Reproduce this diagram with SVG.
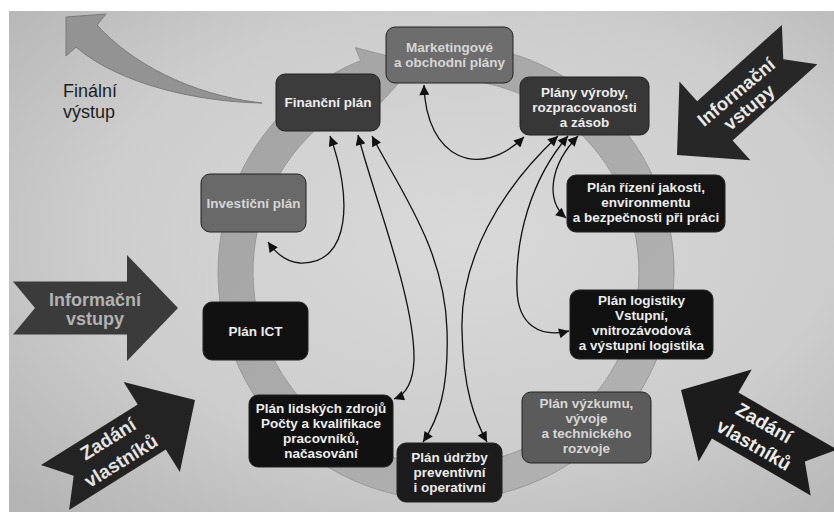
<svg xmlns="http://www.w3.org/2000/svg" width="834" height="512" viewBox="0 0 834 512">
<defs>
<radialGradient id="bg" cx="0.55" cy="0.45" r="0.75">
<stop offset="0" stop-color="#d9d9d9"/>
<stop offset="0.6" stop-color="#cdcdcd"/>
<stop offset="1" stop-color="#b4b4b4"/>
</radialGradient>
<linearGradient id="ringg" x1="0" y1="0" x2="1" y2="1">
<stop offset="0" stop-color="#a3a3a3"/>
<stop offset="1" stop-color="#b3b3b3"/>
</linearGradient>
<marker id="ah" viewBox="0 0 10 10" refX="10" refY="5" markerWidth="12" markerHeight="10" markerUnits="userSpaceOnUse" orient="auto-start-reverse">
<path d="M0,0 L10,5 L0,10 z" fill="#111"/>
</marker>
<path id="bigarrow" d="M0,0 L-51,-53 L-51,-26.5 L-165,-26.5 L-143,0 L-165,26.5 L-51,26.5 L-51,53 Z"/>
</defs>
<style>
.node rect{stroke:#222;stroke-width:1}
.t{font-family:"Liberation Sans",Arial,sans-serif;font-weight:bold;font-size:13.5px;text-anchor:middle}
.lt{fill:#ececec}
.gt{fill:#d6d6d6}
.big{font-family:"Liberation Sans",Arial,sans-serif;font-weight:bold;text-anchor:middle}
.conn path{fill:none;stroke:#111;stroke-width:1.3;marker-start:url(#ah);marker-end:url(#ah)}
</style>
<rect x="0" y="0" width="834" height="512" fill="#ffffff"/>
<rect x="9" y="11" width="825" height="501" fill="url(#bg)"/>

<g id="final-output">
<path d="M262,103 C200,102 120,85 76,47 L66,56 L66,17 L106,14 L97,25 C130,62 190,95 262,103 Z" fill="#939393" stroke="#7a7a7a" stroke-width="1"/>
<text x="63" y="97" font-family="Liberation Sans, Arial, sans-serif" font-size="18" fill="#1e1e1e">Finální</text>
<text x="63" y="118" font-family="Liberation Sans, Arial, sans-serif" font-size="18" fill="#1e1e1e">výstup</text>
</g>

<g id="input-left">
<use href="#bigarrow" transform="translate(178,308)" fill="#3b3b3b"/>
<text class="big" x="95" y="306" font-size="18" fill="#b2b2b2">Informační</text>
<text class="big" x="95" y="325" font-size="18" fill="#b2b2b2">vstupy</text>
</g>

<g id="owners-left">
<use href="#bigarrow" transform="translate(195,400) rotate(-32)" fill="#232323"/>
<text class="big" transform="translate(108,439) rotate(-32)" y="6.5" font-size="19" fill="#e4e4e4">Zadání</text>
<text class="big" transform="translate(121,461) rotate(-32)" y="6.5" font-size="19" fill="#e4e4e4">vlastníků</text>
</g>

<g id="input-right">
<use href="#bigarrow" transform="translate(677,155) rotate(138)" fill="#272727"/>
<text class="big" transform="translate(736,92) rotate(-40)" y="6.5" font-size="18.5" fill="#e8e8e8">Informační</text>
<text class="big" transform="translate(749,107) rotate(-40)" y="6.5" font-size="18.5" fill="#e8e8e8">vstupy</text>
</g>

<g id="owners-right">
<use href="#bigarrow" transform="translate(681,390) rotate(210)" fill="#1c1c1c"/>
<text class="big" transform="translate(764,423) rotate(30)" y="6.5" font-size="19" fill="#ececec">Zadání</text>
<text class="big" transform="translate(754,445) rotate(30)" y="6.5" font-size="19" fill="#ececec">vlastníků</text>
</g>

<g id="cycle">
<path d="M477.7,46.2 A228,228 0 1 1 360.6,60.6 L355.3,47.6 L416.7,63.5 L378.6,105.1 L373.7,93.05 A193,193 0 1 0 472.9,80.9 Z" fill="url(#ringg)" stroke="#989898" stroke-width="1"/>
</g>

<g id="connectors" class="conn">
<path d="M424,85 C426,160 480,180 524,137"/>
<path d="M330,136 C352,195 352,265 300,263 C285,262 275,252 268,242"/>
<path d="M358,135 C375,200 415,300 414,360 C413,385 405,395 394,399"/>
<path d="M372,136 C400,190 445,250 447,330 C449,390 438,420 423,442"/>
<path d="M558,136 C500,190 460,260 462,330 C463,390 475,420 487,442"/>
<path d="M568,136 C530,180 515,240 517,290 C518,325 540,338 569,331"/>
<path d="M578,136 C550,165 545,200 566,218"/>
</g>

<g id="marketing" class="node">
<rect x="386" y="27" width="127" height="56" rx="9" fill="#6d6d6d"/>
<text class="t gt" x="449.5" y="52">Marketingové</text>
<text class="t gt" x="449.5" y="67">a obchodní plány</text>
</g>
<g id="financni" class="node">
<rect x="276" y="74" width="104" height="57" rx="9" fill="#3c3c3c"/>
<text class="t lt" x="328" y="107">Finanční plán</text>
</g>
<g id="vyroba" class="node">
<rect x="520" y="77" width="129" height="58" rx="9" fill="#373737"/>
<text class="t lt" x="584.5" y="97">Plány výroby,</text>
<text class="t lt" x="584.5" y="112">rozpracovanosti</text>
<text class="t lt" x="584.5" y="127">a zásob</text>
</g>
<g id="investicni" class="node">
<rect x="201" y="174" width="105" height="58" rx="9" fill="#696969"/>
<text class="t gt" x="253.5" y="208">Investiční plán</text>
</g>
<g id="jakost" class="node">
<rect x="567" y="175" width="158" height="57" rx="9" fill="#141414"/>
<text class="t lt" x="646" y="192">Plán řízení jakosti,</text>
<text class="t lt" x="646" y="207">environmentu</text>
<text class="t lt" x="646" y="222">a bezpečnosti při práci</text>
</g>
<g id="ict" class="node">
<rect x="203" y="302" width="105" height="58" rx="9" fill="#111111"/>
<text class="t lt" x="255.5" y="336">Plán ICT</text>
</g>
<g id="logistika" class="node">
<rect x="570" y="290" width="143" height="69" rx="9" fill="#111111"/>
<text class="t lt" x="641.5" y="305">Plán logistiky</text>
<text class="t lt" x="641.5" y="320">Vstupní,</text>
<text class="t lt" x="641.5" y="335">vnitrozávodová</text>
<text class="t lt" x="641.5" y="350">a výstupní logistika</text>
</g>
<g id="lidske-zdroje" class="node">
<rect x="249" y="395" width="144" height="72" rx="9" fill="#111111"/>
<text class="t lt" x="321" y="413">Plán lidských zdrojů</text>
<text class="t lt" x="321" y="428">Počty a kvalifikace</text>
<text class="t lt" x="321" y="443">pracovníků,</text>
<text class="t lt" x="321" y="458">načasování</text>
</g>
<g id="udrzba" class="node">
<rect x="397" y="443" width="105" height="59" rx="9" fill="#1c1c1c"/>
<text class="t lt" x="449.5" y="462">Plán údržby</text>
<text class="t lt" x="449.5" y="477">preventivní</text>
<text class="t lt" x="449.5" y="492">i operativní</text>
</g>
<g id="vyzkum" class="node">
<rect x="522" y="392" width="129" height="71" rx="9" fill="#5b5b5b"/>
<text class="t gt" x="586.5" y="408">Plán výzkumu,</text>
<text class="t gt" x="586.5" y="423">vývoje</text>
<text class="t gt" x="586.5" y="438">a technického</text>
<text class="t gt" x="586.5" y="453">rozvoje</text>
</g>
</svg>
